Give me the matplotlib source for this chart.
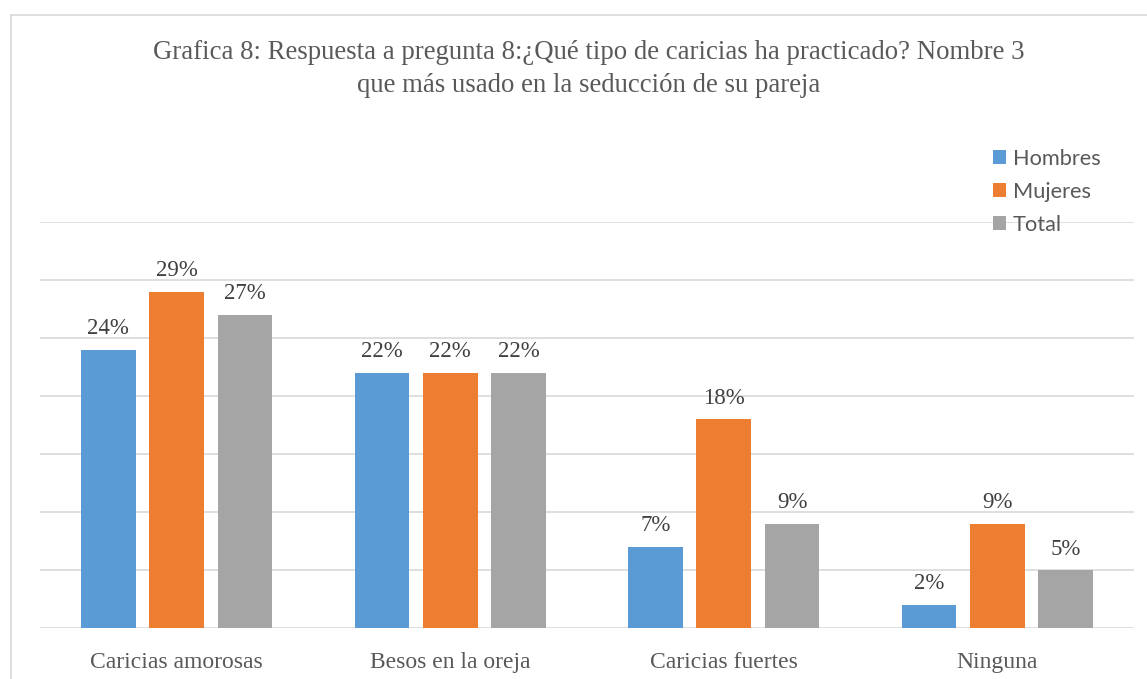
import matplotlib.pyplot as plt
import matplotlib.lines as mlines
import numpy as np

categorias = ['Caricias amorosas', 'Besos en la oreja', 'Caricias fuertes', 'Ninguna']
hombres = [24, 22, 7, 2]
mujeres = [29, 22, 18, 9]
total = [27, 22, 9, 5]

series = [('Hombres', hombres, '#5B9BD5'),
          ('Mujeres', mujeres, '#ED7D31'),
          ('Total', total, '#A5A5A5')]

W, H = 1147, 679
fig = plt.figure(figsize=(W / 100, H / 100), dpi=100)

# Rahmen (nur links und oben sichtbar)
fig.add_artist(mlines.Line2D([11 / W, 11 / W], [0, 1 - 15 / H], color='#D9D9D9', lw=1.2))
fig.add_artist(mlines.Line2D([11 / W, 1], [1 - 15 / H, 1 - 15 / H], color='#D9D9D9', lw=1.2))

ax = fig.add_axes([40 / W, (H - 628) / H, 1094 / W, 406 / H])

x = np.arange(len(categorias))
breite = 0.2
for i, (name, werte, farbe) in enumerate(series):
    pos = x + (i - 1) * 0.25
    bars = ax.bar(pos, werte, breite, color=farbe, label=name, zorder=3)
    for b, v in zip(bars, werte):
        ax.text(b.get_x() + b.get_width() / 2, v + 0.9, f'{v}%', ha='center', va='bottom',
                fontsize=16.5, family='Liberation Serif', color='#404040')

ax.set_xlim(-0.5, 3.5)
ax.set_ylim(0, 35)
ax.set_yticks(np.arange(0, 36, 5))
ax.yaxis.grid(True, color='#D9D9D9', lw=1.2, zorder=0)
ax.tick_params(axis='y', left=False, labelleft=False)
ax.tick_params(axis='x', bottom=False, pad=14)
ax.set_xticks(x)
ax.set_xticklabels(categorias, fontsize=17, family='Liberation Serif', color='#595959')
for s in ax.spines.values():
    s.set_visible(False)

fig.text(0.5 + 15 / W, 1 - 69 / H,
         'Grafica 8: Respuesta a pregunta 8:¿Qué tipo de caricias ha practicado? Nombre 3\n'
         'que más usado en la seducción de su pareja',
         ha='center', va='center', fontsize=19.3, family='Liberation Serif',
         color='#595959', linespacing=1.38)

leg = fig.legend(loc='upper left', bbox_to_anchor=(982 / W, 1 - 138 / H), frameon=False,
                 prop={'family': 'Lato', 'size': 15.7}, handlelength=0.6, handleheight=0.6,
                 handletextpad=0.3, labelspacing=0.6, borderpad=0)
for t in leg.get_texts():
    t.set_color('#595959')

plt.savefig('out.png', dpi=100)
